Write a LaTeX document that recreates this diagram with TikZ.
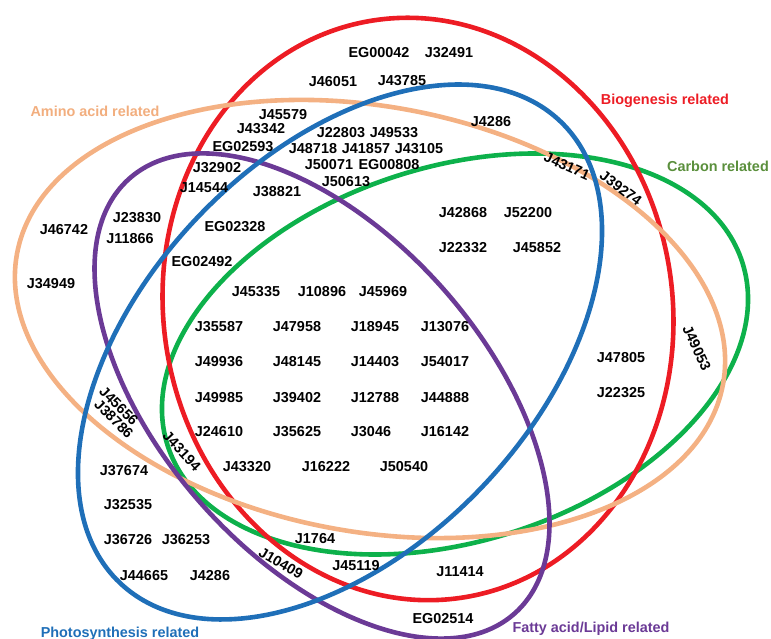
\documentclass[tikz,border=0pt]{standalone}
\usepackage{fontspec}
\setmainfont{Liberation Sans}
\definecolor{cred}{HTML}{ED1C24}
\definecolor{cblue}{HTML}{1F6FB8}
\definecolor{cgreen}{HTML}{0DB14B}
\definecolor{corange}{HTML}{F4B183}
\definecolor{cpurple}{HTML}{6B3A96}
\definecolor{lgreen}{HTML}{5A8F3C}
\definecolor{lorange}{HTML}{F2AE7E}
\begin{document}
\begin{tikzpicture}[x=1pt,y=1pt,
  ring/.style={line width=4.6pt},
  gene/.style={font=\fontsize{14.4}{16}\selectfont\bfseries, inner sep=0pt, text height=10.3pt, text depth=0pt, anchor=center},
  setlbl/.style={gene}]
\useasboundingbox (0,0) rectangle (771,639);
% ellipses
\draw[ring,cgreen,rotate around={17.6:(455,285)}] (455,285) ellipse [x radius=301.6, y radius=187.3];
\draw[ring,cred,rotate around={8.8:(418,330)}] (418,330) ellipse [x radius=254.5, y radius=292];
\draw[ring,corange,rotate around={-10.5:(370,320)}] (370,320) ellipse [x radius=359, y radius=212.6];
\draw[ring,cpurple,rotate around={-48.5:(322,243)}] (322,243) ellipse [x radius=290.5, y radius=161.8];
\draw[ring,cblue,rotate around={46.3:(340,287)}] (340,287) ellipse [x radius=319, y radius=196];
% set labels
\node[setlbl,lorange] (amino) at (95,528) {Amino acid related};
\node[setlbl,cred] (bio) at (665,540) {Biogenesis related};
\node[setlbl,lgreen] (carbon) at (718,473) {Carbon related};
\node[setlbl,cblue] (photo) at (120,7) {Photosynthesis related};
\node[setlbl,cpurple] (fatty) at (591,12) {Fatty acid/Lipid related};
% genes
\node[gene] (EG00042) at (379,587) {EG00042};
\node[gene] (J32491) at (449,587) {J32491};
\node[gene] (J46051) at (333,558) {J46051};
\node[gene] (J43785) at (402,559) {J43785};
\node[gene] (J45579) at (283,525) {J45579};
\node[gene] (J43342) at (261,511) {J43342};
\node[gene] (EG02593) at (243,493) {EG02593};
\node[gene] (J22803) at (341,507) {J22803};
\node[gene] (J49533) at (394,507) {J49533};
\node[gene] (J48718) at (313,491) {J48718};
\node[gene] (J41857) at (366,491) {J41857};
\node[gene] (J43105) at (419,491) {J43105};
\node[gene] (J50071) at (329,475) {J50071};
\node[gene] (EG00808) at (389,475) {EG00808};
\node[gene] (J50613) at (346,458) {J50613};
\node[gene] (J32902) at (217,472) {J32902};
\node[gene] (J14544) at (204,452) {J14544};
\node[gene] (J38821) at (277,448) {J38821};
\node[gene] (J23830) at (137,422) {J23830};
\node[gene] (J11866) at (130,401) {J11866};
\node[gene] (J46742) at (64,410) {J46742};
\node[gene] (EG02328) at (235,413) {EG02328};
\node[gene] (EG02492) at (202,378) {EG02492};
\node[gene] (J34949) at (51,356) {J34949};
\node[gene] (J45335) at (256,348) {J45335};
\node[gene] (J10896) at (322,348) {J10896};
\node[gene] (J45969) at (383,348) {J45969};
\node[gene] (J4286a) at (491,518) {J4286};
\node[gene,rotate=-24] (J43171) at (567,473) {J43171};
\node[gene,rotate=-37] (J39274) at (621,451) {J39274};
\node[gene] (J42868) at (463,427) {J42868};
\node[gene] (J52200) at (528,427) {J52200};
\node[gene] (J22332) at (463,392) {J22332};
\node[gene] (J45852) at (537,392) {J45852};
\node[gene] (J35587) at (219,313) {J35587};
\node[gene] (J47958) at (297,313) {J47958};
\node[gene] (J18945) at (375,313) {J18945};
\node[gene] (J13076) at (445,313) {J13076};
\node[gene] (J49936) at (219,278) {J49936};
\node[gene] (J48145) at (297,278) {J48145};
\node[gene] (J14403) at (375,278) {J14403};
\node[gene] (J54017) at (445,278) {J54017};
\node[gene] (J49985) at (219,242) {J49985};
\node[gene] (J39402) at (297,242) {J39402};
\node[gene] (J12788) at (375,242) {J12788};
\node[gene] (J44888) at (445,242) {J44888};
\node[gene] (J24610) at (219,208) {J24610};
\node[gene] (J35625) at (297,208) {J35625};
\node[gene] (J3046) at (371,208) {J3046};
\node[gene] (J16142) at (445,208) {J16142};
\node[gene] (J43320) at (247,173) {J43320};
\node[gene] (J16222) at (326,173) {J16222};
\node[gene] (J50540) at (404,173) {J50540};
\node[gene,rotate=-45] (J45656) at (119,233) {J45656};
\node[gene,rotate=-45] (J38786) at (114,220) {J38786};
\node[gene,rotate=-47] (J43194) at (182,188) {J43194};
\node[gene] (J37674) at (124,169) {J37674};
\node[gene] (J32535) at (128,135) {J32535};
\node[gene] (J36726) at (128,100) {J36726};
\node[gene] (J36253) at (186,100) {J36253};
\node[gene] (J44665) at (144,64) {J44665};
\node[gene] (J4286b) at (210,64) {J4286};
\node[gene] (J1764) at (315,101) {J1764};
\node[gene,rotate=-30] (J10409) at (281,76) {J10409};
\node[gene] (J45119) at (356,74) {J45119};
\node[gene] (J47805) at (621,282) {J47805};
\node[gene] (J22325) at (621,247) {J22325};
\node[gene,rotate=-65] (J49053) at (697,291) {J49053};
\node[gene] (J11414) at (460,68) {J11414};
\node[gene] (EG02514) at (443,21) {EG02514};
\end{tikzpicture}
\end{document}
